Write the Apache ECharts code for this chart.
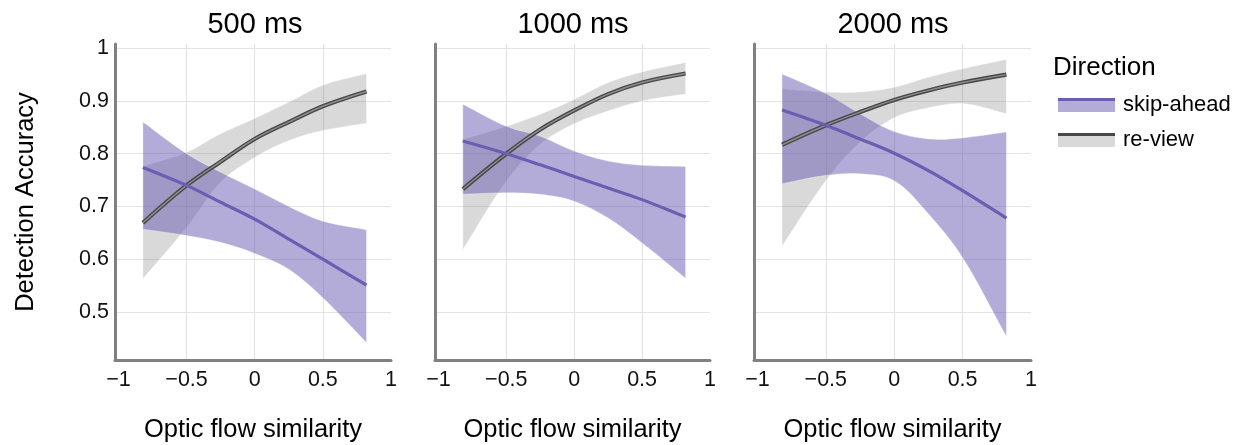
<!DOCTYPE html>
<html><head><meta charset="utf-8">
<script src="https://cdn.jsdelivr.net/npm/echarts@6/dist/echarts.min.js"></script>
<style>html,body{margin:0;padding:0;background:#fff}#c{width:1239px;height:445px}</style>
</head><body><div id="c"></div>
<script>
// ---- data ----
const panelTitles = ['500 ms', '1000 ms', '2000 ms'];
const seriesNames = ['skip-ahead', 're-view'];
const xPoints = [-0.82, -0.5, -0.25, 0, 0.25, 0.5, 0.82];
const xTickValues = [-1, -0.5, 0, 0.5, 1];
const yTickValues = [0.5, 0.6, 0.7, 0.8, 0.9, 1.0];

const skipMean500 = [0.774, 0.740, 0.708, 0.676, 0.638, 0.600, 0.551];
const skipHigh500 = [0.860, 0.800, 0.765, 0.733, 0.700, 0.672, 0.656];
const skipLow500  = [0.657, 0.645, 0.632, 0.611, 0.581, 0.527, 0.442];
const reviewMean500 = [0.669, 0.740, 0.785, 0.828, 0.860, 0.890, 0.918];
const reviewHigh500 = [0.776, 0.803, 0.838, 0.867, 0.898, 0.930, 0.952];
const reviewLow500  = [0.563, 0.660, 0.746, 0.793, 0.825, 0.844, 0.858];

const skipMean1000 = [0.824, 0.800, 0.779, 0.757, 0.735, 0.713, 0.680];
const skipHigh1000 = [0.894, 0.852, 0.833, 0.805, 0.786, 0.778, 0.776];
const skipLow1000  = [0.723, 0.726, 0.723, 0.710, 0.678, 0.631, 0.564];
const reviewMean1000 = [0.733, 0.800, 0.846, 0.882, 0.913, 0.935, 0.952];
const reviewHigh1000 = [0.827, 0.852, 0.875, 0.903, 0.935, 0.955, 0.973];
const reviewLow1000  = [0.618, 0.748, 0.818, 0.857, 0.881, 0.900, 0.913];

const skipMean2000 = [0.883, 0.854, 0.828, 0.801, 0.768, 0.730, 0.678];
const skipHigh2000 = [0.951, 0.914, 0.876, 0.842, 0.828, 0.830, 0.841];
const skipLow2000  = [0.743, 0.759, 0.762, 0.749, 0.686, 0.603, 0.454];
const reviewMean2000 = [0.817, 0.854, 0.879, 0.902, 0.920, 0.935, 0.950];
const reviewHigh2000 = [0.923, 0.917, 0.917, 0.926, 0.945, 0.961, 0.979];
const reviewLow2000  = [0.625, 0.749, 0.822, 0.868, 0.887, 0.895, 0.876];

const panels = [
  {skip: [skipMean500, skipHigh500, skipLow500], review: [reviewMean500, reviewHigh500, reviewLow500]},
  {skip: [skipMean1000, skipHigh1000, skipLow1000], review: [reviewMean1000, reviewHigh1000, reviewLow1000]},
  {skip: [skipMean2000, skipHigh2000, skipLow2000], review: [reviewMean2000, reviewHigh2000, reviewLow2000]}
];

// ---- styles ----
const FONT = 'Liberation Sans, Arial, sans-serif';
const purpleLine = '#6a5eb2';
const purpleBand = 'rgba(103,89,177,0.5)';
const grayBand = 'rgba(120,120,120,0.28)';
const grayLineDark = '#474747';
const grayLineLight = '#8e8e8e';
const axisGray = '#808080';
const gridColor = '#e3e3e3';
const SMOOTH = 0.35;

const gridLefts = [115, 435, 754];
const gridWidths = [276, 275, 277];
const titleCenters = [255, 573, 893];

const minusFmt = v => (v < 0 ? '\u2212' + Math.abs(v) : String(v));

// smooth curve through pixel points (same control-point rule as ECharts line smoothing)
function curveSegs(pts) {
  const n = pts.length;
  const ctrl = pts.map((cur, i) => {
    const prev = pts[Math.max(0, i - 1)], next = pts[Math.min(n - 1, i + 1)];
    const vx = next[0] - prev[0], vy = next[1] - prev[1];
    let d0 = Math.hypot(cur[0] - prev[0], cur[1] - prev[1]);
    let d1 = Math.hypot(next[0] - cur[0], next[1] - cur[1]);
    const s = d0 + d1; if (s) { d0 /= s; d1 /= s; }
    return {
      before: [cur[0] - vx * SMOOTH * d0, cur[1] - vy * SMOOTH * d0],
      after: [cur[0] + vx * SMOOTH * d1, cur[1] + vy * SMOOTH * d1]
    };
  });
  let d = '';
  for (let i = 0; i < n - 1; i++) {
    const a = ctrl[i].after, b = ctrl[i + 1].before, p = pts[i + 1];
    d += ` C${a[0]},${a[1]} ${b[0]},${b[1]} ${p[0]},${p[1]}`;
  }
  return d;
}

const grids = [], xAxes = [], yAxes = [], titles = [], series = [];
panels.forEach((p, i) => {
  grids.push({left: gridLefts[i], width: gridWidths[i], top: 44, height: 316, containLabel: false, outerBoundsMode: 'none'});
  titles.push({text: panelTitles[i], left: titleCenters[i], top: 10, textAlign: 'center', padding: 0,
    textStyle: {fontSize: 29, fontWeight: 'normal', color: '#000', fontFamily: FONT}});
  xAxes.push({
    type: 'value', gridIndex: i, min: -1.025, max: 1,
    name: 'Optic flow similarity', nameLocation: 'middle', nameGap: 57,
    nameTextStyle: {fontSize: 25.5, color: '#000', fontFamily: FONT},
    axisLine: {show: true, onZero: false, lineStyle: {color: axisGray, width: 3}},
    axisTick: {show: false, customValues: [-0.5, 0, 0.5]},
    axisLabel: {customValues: xTickValues, formatter: minusFmt, fontSize: 21.5, color: '#111', fontFamily: FONT, margin: 9},
    splitLine: {show: true, lineStyle: {color: gridColor, width: 1.2}}
  });
  yAxes.push({
    type: 'value', gridIndex: i, min: 0.409, max: 1.008,
    name: i === 0 ? 'Detection Accuracy' : '', nameLocation: 'middle', nameGap: 76,
    nameTextStyle: {fontSize: 25.5, color: '#000', fontFamily: FONT},
    axisLine: {show: true, onZero: false, lineStyle: {color: axisGray, width: 3}},
    axisTick: {show: false, customValues: yTickValues},
    axisLabel: {show: i === 0, customValues: yTickValues, fontSize: 21.5, color: '#111', fontFamily: FONT, margin: 6,
      formatter: v => String(Math.round(v * 10) / 10)},
    splitLine: {show: true, lineStyle: {color: gridColor, width: 1.2}}
  });

  const band = (name, vals, color, edge) => {
    const [, hi, lo] = vals;
    series.push({
      type: 'custom', name, xAxisIndex: i, yAxisIndex: i, silent: true, z: 2,
      data: [[xPoints[0], hi[0]]],
      renderItem: (params, api) => {
        const up = xPoints.map((x, k) => api.coord([x, hi[k]]));
        const dn = xPoints.map((x, k) => api.coord([x, lo[k]])).reverse();
        const d = `M${up[0][0]},${up[0][1]}` + curveSegs(up) + ` L${dn[0][0]},${dn[0][1]}` + curveSegs(dn) + ' Z';
        return {type: 'path', shape: {pathData: d}, style: {fill: color, stroke: edge, lineWidth: 1}};
      }
    });
  };
  const line = (name, vals, color, width) => series.push({
    type: 'line', name, xAxisIndex: i, yAxisIndex: i, smooth: SMOOTH, symbol: 'none', silent: true, z: 2,
    lineStyle: {color, width}, data: xPoints.map((x, k) => [x, vals[k]])
  });
  // re-view ribbon + line first, then skip-ahead on top
  band('re-view', p.review, grayBand, 'rgba(255,255,255,0.35)');
  line('re-view', p.review[0], grayLineDark, 4.2);
  line('re-view', p.review[0], grayLineLight, 1.4);
  band('skip-ahead', p.skip, purpleBand, 'rgba(255,255,255,0.3)');
  line('skip-ahead', p.skip[0], purpleLine, 3.2);
});

titles.push({text: 'Direction', left: 1053, top: 55, padding: 0,
  textStyle: {fontSize: 26, fontWeight: 'normal', color: '#000', fontFamily: FONT}});

const chart = echarts.init(document.getElementById('c'), null, {renderer: 'canvas'});
chart.setOption({
  backgroundColor: '#fff',
  animation: false,
  title: titles,
  grid: grids,
  xAxis: xAxes,
  yAxis: yAxes,
  legend: {
    orient: 'vertical', left: 1058, top: 94, padding: 0, itemWidth: 57, itemHeight: 14, itemGap: 13,
    selectedMode: false,
    textStyle: {fontSize: 22, color: '#000', fontFamily: FONT, padding: [0, 0, 0, 3]},
    data: [
      {name: 'skip-ahead', icon: 'rect', itemStyle: {color: purpleBand, borderWidth: 0}},
      {name: 're-view', icon: 'rect', itemStyle: {color: grayBand, borderWidth: 0}}
    ]
  },
  graphic: [
    {type: 'line', shape: {x1: 1058, y1: 99.5, x2: 1115, y2: 99.5}, style: {stroke: purpleLine, lineWidth: 3}, z: 100},
    {type: 'line', shape: {x1: 1058, y1: 134.5, x2: 1115, y2: 134.5}, style: {stroke: grayLineDark, lineWidth: 3}, z: 100}
  ],
  series
});
</script></body></html>
